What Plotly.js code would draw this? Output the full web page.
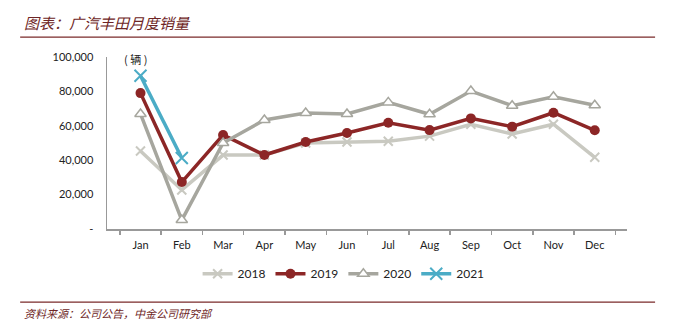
<!DOCTYPE html>
<html><head><meta charset="utf-8">
<script src="https://cdn.plot.ly/plotly-3.0.1.min.js"></script>
<style>html,body{margin:0;padding:0;background:#fff;}#chart{width:679px;height:331px;}</style>
</head><body><div id="chart"></div>
<script>
const months = ["Jan","Feb","Mar","Apr","May","Jun","Jul","Aug","Sep","Oct","Nov","Dec"];
const s2018 = [45300,22700,43000,43000,50000,50600,51000,54000,60900,55200,60900,41700];
const s2019 = [79000,27300,54700,43000,50600,55800,61800,57500,64300,59500,67600,57400];
const s2020 = [66900,5200,50000,63400,67400,66900,73600,66700,80200,71700,76900,71900];
const s2021 = [89100,41300];
const yTicks = [0,20000,40000,60000,80000,100000];
const yTickText = ["-","20,000","40,000","60,000","80,000","100,000"];

const traces = [
 {name:"2018", x:months, y:s2018, mode:"lines+markers", line:{color:"#c9c9c1",width:3.5},
  marker:{symbol:"x-thin",size:9,line:{color:"#c9c9c1",width:2}}},
 {name:"2019", x:months, y:s2019, mode:"lines+markers", line:{color:"#8c2626",width:3.5},
  marker:{symbol:"circle",size:10,color:"#8c2626"}},
 {name:"2020", x:months, y:s2020, mode:"lines+markers", line:{color:"#a6a69e",width:3.5},
  marker:{symbol:"triangle-up",size:10,color:"#ffffff",line:{color:"#a6a69e",width:1.5}}},
 {name:"2021", x:months.slice(0,s2021.length), y:s2021, mode:"lines+markers", line:{color:"#4bacc6",width:3.5},
  marker:{symbol:"x-thin",size:12,line:{color:"#4bacc6",width:2}}}
];

const layout = {
  width:679, height:331,
  margin:{l:107,r:52,t:57,b:102},
  paper_bgcolor:"#fff", plot_bgcolor:"#fff",
  font:{family:"Lato, 'Liberation Sans', sans-serif", size:11, color:"#222"},
  showlegend:true,
  legend:{orientation:"h", x:0.455, xanchor:"center", y:-0.26, yanchor:"middle",
    font:{size:12,color:"#222"}, itemwidth:30, traceorder:"normal", tracegroupgap:0},
  xaxis:{type:"category", categoryarray:months, showgrid:false, zeroline:false,
    showline:true, linecolor:"#999", linewidth:1.5, ticks:"outside", tickson:"boundaries",
    ticklen:4, tickcolor:"#999", tickwidth:1.5, ticklabelstandoff:5, tickfont:{size:11,color:"#222"}, fixedrange:true},
  yaxis:{range:[0,100000], tickvals:yTicks, ticktext:yTickText, showgrid:false, zeroline:false,
    showline:true, linecolor:"#999", linewidth:1.5, ticks:"", ticklabelstandoff:10,
    tickfont:{size:11,color:"#222"}, fixedrange:true},
  shapes:[
    {type:"line", xref:"paper", yref:"paper", x0:-0.167, x1:1.054, y0:1.115, y1:1.115,
     line:{color:"#7a2a2a",width:1.2}},
    {type:"line", xref:"paper", yref:"paper", x0:-0.167, x1:1.054, y0:-0.425, y1:-0.425,
     line:{color:"#7a2a2a",width:1.2}}
  ],
  annotations:[
    {text:"<i>图表：广汽丰田月度销量</i>", xref:"paper", yref:"paper", x:-0.163, y:1.2, xanchor:"left", yanchor:"middle",
     showarrow:false, font:{family:"'Noto Sans CJK SC', sans-serif", size:15, color:"#6e2626"}},
    {text:"<i>资料来源：公司公告，中金公司研究部</i>", xref:"paper", yref:"paper", x:-0.163, y:-0.49, xanchor:"left", yanchor:"middle",
     showarrow:false, font:{family:"'Noto Sans CJK SC', sans-serif", size:11, color:"#6e2626"}},
    {text:"(\u00a0辆\u00a0)", xref:"paper", yref:"paper", x:0.028, y:0.99, xanchor:"left", yanchor:"middle",
     showarrow:false, font:{family:"'Noto Sans CJK SC', sans-serif", size:11, color:"#222"}}
  ]
};
Plotly.newPlot("chart", traces, layout, {displayModeBar:false, staticPlot:true});
</script></body></html>
